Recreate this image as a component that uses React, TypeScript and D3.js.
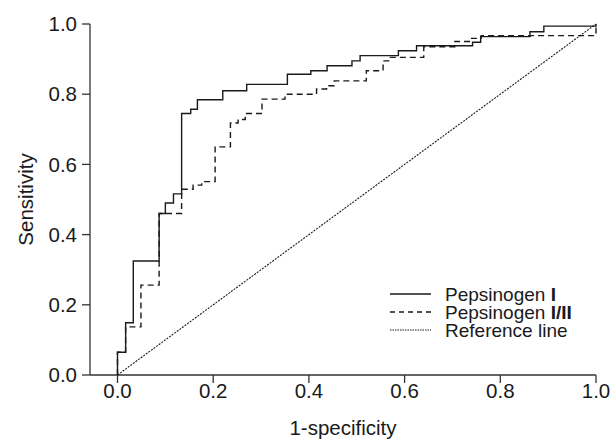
import React from "react";
import * as d3 from "d3";

const ticks = [0, 0.2, 0.4, 0.6, 0.8, 1.0];
const tickLabels = ["0.0", "0.2", "0.4", "0.6", "0.8", "1.0"];

// Pepsinogen I ROC corners (fpr, sens), step-before
const pgIFpr = [0, 0.017, 0.033, 0.087, 0.1, 0.117, 0.134, 0.153, 0.167, 0.22, 0.27, 0.355, 0.404, 0.438, 0.49, 0.507, 0.587, 0.625, 0.742, 0.759, 0.862, 0.891, 1.0, 1.0];
const pgISens = [0, 0.065, 0.149, 0.325, 0.46, 0.49, 0.516, 0.745, 0.757, 0.784, 0.81, 0.828, 0.857, 0.867, 0.881, 0.895, 0.91, 0.924, 0.938, 0.948, 0.964, 0.978, 0.994, 1.0];

// Pepsinogen I/II ROC corners
const ratioFpr = [0, 0.017, 0.049, 0.087, 0.134, 0.158, 0.176, 0.204, 0.236, 0.252, 0.267, 0.302, 0.35, 0.416, 0.437, 0.453, 0.52, 0.555, 0.57, 0.64, 0.705, 0.74, 0.76, 1.0, 1.0];
const ratioSens = [0, 0.065, 0.137, 0.256, 0.46, 0.529, 0.541, 0.551, 0.65, 0.718, 0.728, 0.745, 0.786, 0.8, 0.815, 0.824, 0.838, 0.867, 0.895, 0.905, 0.935, 0.95, 0.959, 0.967, 1.0];

const refFpr = [0, 1];
const refSens = [0, 1];

const FONT = "'Liberation Sans', Arial, sans-serif";
const FS = 20.5;
const LFS = 19;

export default function App() {
  const W = 616, H = 441;
  const x = d3.scaleLinear().domain([0, 1]).range([117.5, 596]);
  const y = d3.scaleLinear().domain([0, 1]).range([375, 24]);
  const axisX0 = 90;

  const step = d3.line<[number, number]>().x(d => x(d[0])).y(d => y(d[1])).curve(d3.curveStepBefore);
  const lin = d3.line<[number, number]>().x(d => x(d[0])).y(d => y(d[1]));

  const pgI = pgIFpr.map((f, i) => [f, pgISens[i]] as [number, number]);
  const ratio = ratioFpr.map((f, i) => [f, ratioSens[i]] as [number, number]);
  const ref = refFpr.map((f, i) => [f, refSens[i]] as [number, number]);

  const ink = "#1a1a1a";
  const axisCol = "#333";

  const legendY = [294, 312, 330];
  const legendX1 = 390, legendX2 = 431, legendTX = 445;

  return (
    <svg width={W} height={H} style={{ position: "absolute", left: 0, top: 0 }} fontFamily={FONT}>
      <rect width={W} height={H} fill="#fff" />
      {/* axes */}
      <line x1={axisX0} x2={axisX0} y1={y(1)} y2={y(0)} stroke={axisCol} strokeWidth={1.3} />
      <line x1={axisX0} x2={x(1)} y1={y(0)} y2={y(0)} stroke={axisCol} strokeWidth={1.3} />
      {ticks.map((t, i) => (
        <g key={"y" + i}>
          <line x1={axisX0 - 8} x2={axisX0} y1={y(t)} y2={y(t)} stroke={axisCol} strokeWidth={1.3} />
          <text x={77} y={y(t)} dy="0.35em" textAnchor="end" fontSize={FS} fill={ink}>{tickLabels[i]}</text>
        </g>
      ))}
      {ticks.map((t, i) => (
        <g key={"x" + i}>
          <line x1={x(t)} x2={x(t)} y1={y(0)} y2={y(0) + 8} stroke={axisCol} strokeWidth={1.3} />
          <text x={x(t)} y={398} textAnchor="middle" fontSize={FS} fill={ink}>{tickLabels[i]}</text>
        </g>
      ))}
      <text x={(axisX0 + x(1)) / 2} y={435} textAnchor="middle" fontSize={FS} fill={ink}>1-specificity</text>
      <text transform={`translate(33,${(y(0) + y(1)) / 2}) rotate(-90)`} textAnchor="middle" fontSize={FS} fill={ink}>Sensitivity</text>

      {/* curves */}
      <path d={lin(ref) || ""} fill="none" stroke={ink} strokeWidth={1.1} strokeDasharray="2,1.2" />
      <path d={step(ratio) || ""} fill="none" stroke={ink} strokeWidth={1.4} strokeDasharray="6,4" />
      <path d={step(pgI) || ""} fill="none" stroke={ink} strokeWidth={1.4} />

      {/* legend */}
      <line x1={legendX1} x2={legendX2} y1={legendY[0]} y2={legendY[0]} stroke={ink} strokeWidth={1.3} />
      <line x1={legendX1} x2={legendX2} y1={legendY[1]} y2={legendY[1]} stroke={ink} strokeWidth={1.3} strokeDasharray="5,4" />
      <line x1={legendX1} x2={legendX2} y1={legendY[2]} y2={legendY[2]} stroke={ink} strokeWidth={1} strokeDasharray="1.5,1" />
      <text x={legendTX} y={legendY[0]} dy="0.35em" fontSize={LFS} fill={ink}>Pepsinogen <tspan fontWeight="bold">I</tspan></text>
      <text x={legendTX} y={legendY[1]} dy="0.35em" fontSize={LFS} fill={ink}>Pepsinogen <tspan fontWeight="bold">I/II</tspan></text>
      <text x={legendTX} y={legendY[2]} dy="0.35em" fontSize={LFS} fill={ink}>Reference line</text>
    </svg>
  );
}
